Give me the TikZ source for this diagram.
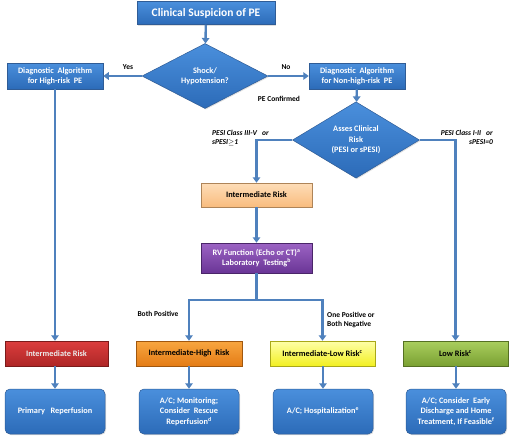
\documentclass[tikz,border=0pt]{standalone}
\usepackage{fontspec}
\setmainfont{Carlito}
\usetikzlibrary{shapes.geometric,arrows.meta,shadows}
\definecolor{arr}{HTML}{4F81BD}
\definecolor{bluetop}{HTML}{4A8FDC}
\definecolor{bluebot}{HTML}{2C6BB8}
\definecolor{blueline}{HTML}{2F5C96}
\definecolor{redtop}{HTML}{DC3E3E}
\definecolor{redbot}{HTML}{AE2626}
\definecolor{oratop}{HTML}{F8A640}
\definecolor{orabot}{HTML}{E47C16}
\definecolor{yeltop}{HTML}{FFFFA8}
\definecolor{yelbot}{HTML}{F2F022}
\definecolor{grntop}{HTML}{AACF5E}
\definecolor{grnbot}{HTML}{7AA032}
\definecolor{ltotop}{HTML}{FDDDB8}
\definecolor{ltobot}{HTML}{F9BC7E}
\definecolor{purtop}{HTML}{9C64C4}
\definecolor{purbot}{HTML}{6A3596}
\tikzset{
  box/.style={draw=#1, line width=0.5pt, rectangle, align=center, font=\bfseries\fontsize{8.3}{10.3}\selectfont, inner sep=1pt, drop shadow={shadow xshift=1pt, shadow yshift=-1pt, opacity=0.25}},
  bluebox/.style={box=blueline, top color=bluetop, bottom color=bluebot, text=white},
  bdiam/.style={diamond, draw=blueline, line width=0.5pt, top color=bluetop, bottom color=bluebot, text=white, align=center, font=\bfseries\fontsize{8.3}{10.3}\selectfont, inner sep=0pt, drop shadow={shadow xshift=1pt, shadow yshift=-1pt, opacity=0.25}},
  conn/.style={draw=arr, line width=2.4pt, -{Triangle[width=7.5pt,length=5.5pt]}},
  plain/.style={draw=arr, line width=2.4pt},
  lbl/.style={font=\bfseries\fontsize{7.5}{9.5}\selectfont, inner sep=0pt},
  ilbl/.style={font=\bfseries\itshape\fontsize{7.5}{9.5}\selectfont, inner sep=0pt, align=left},
}
\begin{document}
\begin{tikzpicture}[x=1pt,y=-1pt]
\useasboundingbox (0,0) rectangle (512,437);
% nodes
\node[bluebox, minimum width=138pt, minimum height=23pt, font=\bfseries\fontsize{11.5}{13}\selectfont] (top) at (206,13) {Clinical Suspicion of PE};
\node[bdiam, minimum width=126pt, minimum height=48pt] (d1) at (205,76) {Shock/\\Hypotension?};
\node[bluebox, minimum width=96pt, minimum height=26pt] (hr) at (55,76) {Diagnostic\ \ Algorithm\\for\ High-risk\ \ PE};
\node[bluebox, minimum width=96pt, minimum height=26pt] (nhr) at (357,76) {Diagnostic\ \ Algorithm\\for Non-high-risk\ \ PE};
\node[bdiam, minimum width=127pt, minimum height=55pt] (d2) at (356,140) {Asses Clinical\\Risk\\(PESI or sPESI)};
\node[box=ltobot!70!black, top color=ltotop, bottom color=ltobot, minimum width=111pt, minimum height=24pt] (ir) at (256.5,195) {Intermediate Risk};
\node[box=purbot!70!black, top color=purtop, bottom color=purbot, text=white, minimum width=111pt, minimum height=30pt] (rv) at (256.5,258) {RV Function (Echo or CT)\textsuperscript{a}\\Laboratory\ \ Testing\textsuperscript{b}};
\coordinate (j) at (256.5,300);
% risk row
\node[box=redbot!70!black, top color=redtop, bottom color=redbot, text=white!92!black, minimum width=103pt, minimum height=25pt] (red) at (56.5,353.5) {Intermediate Risk};
\node[box=orabot!70!black, top color=oratop, bottom color=orabot, minimum width=106pt, minimum height=25pt] (ora) at (189,353.5) {Intermediate-High\ \ Risk};
\node[box=yelbot!70!black, top color=yeltop, bottom color=yelbot, minimum width=105pt, minimum height=25pt] (yel) at (322.5,353.5) {Intermediate-Low Risk\textsuperscript{c}};
\node[box=grnbot!70!black, top color=grntop, bottom color=grnbot, minimum width=105pt, minimum height=25pt] (grn) at (455.5,353.5) {Low Risk\textsuperscript{c}};
% final row
\node[bluebox, rounded corners=5pt, minimum width=100pt, minimum height=45pt] (f1) at (55,411.5) {Primary\ \ \ Reperfusion};
\node[bluebox, rounded corners=5pt, minimum width=100pt, minimum height=45pt] (f2) at (189,411.5) {A/C; Monitoring;\\Consider\ \ Rescue\\Reperfusion\textsuperscript{d}};
\node[bluebox, rounded corners=5pt, minimum width=100pt, minimum height=45pt] (f3) at (323,411.5) {A/C; Hospitalization\textsuperscript{e}};
\node[bluebox, rounded corners=5pt, minimum width=100pt, minimum height=45pt] (f4) at (456,411.5) {A/C; Consider\ \ Early\\Discharge and Home\\Treatment, If Feasible\textsuperscript{f}};
% labels
\node[lbl] (yes) at (128,67) {Yes};
\node[lbl] (no) at (286,67) {No};
\node[lbl] (pec) at (279,99) {PE Confirmed};
\node[ilbl, anchor=north west] (l3) at (212,130) {PESI Class III-V\ \ \ or\\sPESI$\geq$1};
\node[ilbl, anchor=north east, align=right] (l4) at (493,130) {PESI Class I-II\ \ \ or\\sPESI=0};
\node[lbl] (bp) at (158,314) {Both Positive};
\node[lbl, anchor=west, align=left] (op) at (327,320) {One Positive or\\Both Negative};
% connectors
\draw[conn] (top) -- (d1);
\draw[conn] (d1.west) -- (hr.east);
\draw[conn] (d1.east) -- (nhr.west);
\draw[conn] (nhr) -- (d2);
\draw[conn] (d2.west) -| (ir.north);
\draw[conn] (d2.east) -| (grn.north);
\draw[conn] (hr.south) -- (hr.south |- red.north);
\draw[conn] (ir) -- (rv);
\draw[plain] (rv.south) -- (j);
\draw[conn] (j) -| (ora.north);
\draw[conn] (j) -| (yel.north);
\draw[conn] (red.south -| f1.north) -- (f1.north);
\draw[conn] (ora) -- (f2);
\draw[conn] (yel.south -| f3.north) -- (f3.north);
\draw[conn] (grn.south -| f4.north) -- (f4.north);
\end{tikzpicture}
\end{document}
